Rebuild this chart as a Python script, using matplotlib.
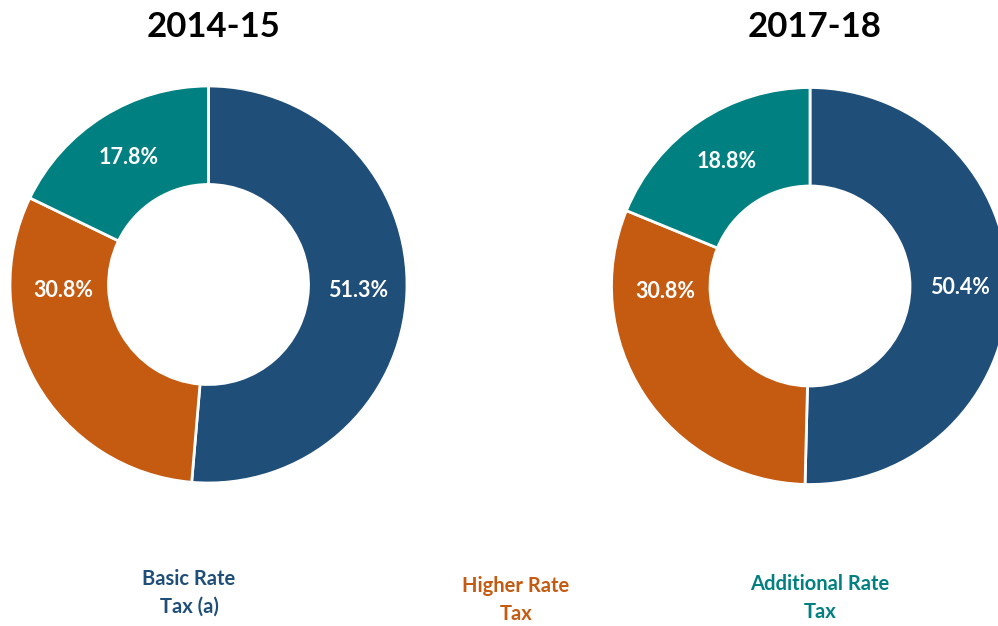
import numpy as np
import matplotlib.pyplot as plt

plt.rcParams['font.family'] = ['Lato', 'DejaVu Sans']

years = ["2014-15", "2017-18"]
categories = ["Basic Rate\nTax (a)", "Higher Rate\nTax", "Additional Rate\nTax"]
shares_2014 = [51.3, 30.8, 17.8]
shares_2017 = [50.4, 30.8, 18.8]
colors = ["#1F4E79", "#C55A11", "#008080"]

W, H = 998, 626
fig = plt.figure(figsize=(W / 100, H / 100), dpi=100)
ax = fig.add_axes([0, 0, 1, 1])

# donut centres in pixel space (y measured from bottom)
centres = [(208.5, H - 284.5), (810, H - 286)]
outer, inner = 198.5, 100
label_r = 150

for year, vals, (cx, cy) in zip(years, [shares_2014, shares_2017], centres):
    wedges, texts, autotexts = ax.pie(
        vals, colors=colors, startangle=90, counterclock=False,
        center=(cx, cy), radius=outer, frame=True,
        autopct=lambda p: "", pctdistance=label_r / outer,
        wedgeprops=dict(width=outer - inner, edgecolor="white", linewidth=2),
    )
    # labels show the raw values (left pie sums to 99.9)
    for i, (t, v) in enumerate(zip(autotexts, vals)):
        t.set_text(f"{v:.1f}%")
        t.set_color("white")
        t.set_fontsize(15.5)
        t.set_fontweight("bold")
        if i == 1:
            # the orange label sits level with the centre, as in the original
            t.set_position((cx - 145, cy - 6))
    ax.text(cx + 5, H - 27, year, ha="center", va="center",
            fontsize=25, fontweight="bold", color="black")

# legend-like labels at the bottom
legend_pos = [(189, H - 593), (516, H - 600), (820, H - 598)]
for name, col, (lx, ly) in zip(categories, colors, legend_pos):
    ax.text(lx, ly, name, ha="center", va="center", color=col,
            family=['Liberation Sans Narrow', 'Lato'],
            fontsize=14.5, fontweight="bold", linespacing=1.45)

ax.set_xlim(0, W)
ax.set_ylim(0, H)
ax.set_aspect("auto")
ax.axis("off")

fig.savefig("out.png", dpi=100)
